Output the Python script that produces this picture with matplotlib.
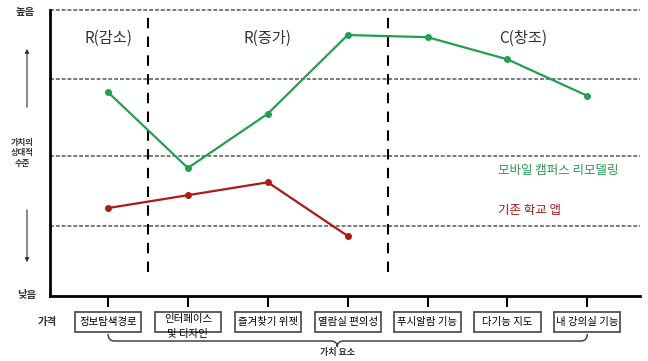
import numpy as np
import matplotlib.pyplot as plt
from matplotlib import transforms
from matplotlib.patches import Rectangle, PathPatch
from matplotlib.path import Path

plt.rcParams['font.family'] = ['Noto Sans CJK KR', 'DejaVu Sans']

# Données
categories = ['정보탐색경로', '인터페이스', '즐겨찾기 위젯', '열람실 편의성',
              '푸시알람 기능', '다기능 지도', '내 강의실 기능']
new_app = [2.85, 1.79, 2.55, 3.65, 3.62, 3.31, 2.80]   # 모바일 캠퍼스 리모델링
old_app = [1.23, 1.41, 1.59, 0.84]                     # 기존 학교 앱
grid_levels = [0.98, 1.96, 3.03, 4.0]
sections = ['R(감소)', 'R(증가)', 'C(창조)']
section_x = [0.0, 2.0, 5.2]
borders = [0.5, 3.5]

green = '#22a052'
red = '#b01818'

W, H = 648, 361
fig = plt.figure(figsize=(W / 100, H / 100), dpi=100)

# axe principal : de x=50 à 640 px, de y=10 à 296 px
ax = fig.add_axes([50 / W, (H - 296) / H, 590 / W, 286 / H])
ax.set_xlim(-0.727, 6.66)
ax.set_ylim(0, 4)

for lv in grid_levels:
    ax.axhline(lv, color='#7a7a7a', lw=1.4, ls=(0, (2, 1)), clip_on=False, zorder=1)
for b in borders:
    ax.axvline(b, ymin=0.084, ymax=0.99, color='black', lw=1.5, ls=(0, (5, 4)), zorder=2)

x = np.arange(len(categories))
ax.plot(x, new_app, color=green, lw=1.6, marker='o', ms=4, zorder=3)
ax.plot(x[:len(old_app)], old_app, color=red, lw=1.6, marker='o', ms=4, zorder=3)

for s, sx in zip(sections, section_x):
    ax.text(sx, 3.6, s, ha='center', va='center', fontsize=11, color='#333333')

ax.text(0.76, 0.44, '모바일 캠퍼스 리모델링', transform=ax.transAxes, ha='left',
        va='center', fontsize=9, color=green, fontweight='medium')
ax.text(0.76, 0.30, '기존 학교 앱', transform=ax.transAxes, ha='left',
        va='center', fontsize=9, color=red, fontweight='medium')

for side in ['top', 'right']:
    ax.spines[side].set_visible(False)
ax.spines['left'].set_linewidth(2)
ax.spines['bottom'].set_linewidth(2)
ax.set_xticks(x)
ax.set_xticklabels([])
ax.tick_params(axis='x', length=8, width=1.5, direction='out')
ax.set_yticks([])

# calque en pixels pour les annotations
over = fig.add_axes([0, 0, 1, 1], zorder=-1)
over.set_xlim(0, W)
over.set_ylim(H, 0)
over.axis('off')
bt = transforms.blended_transform_factory(ax.transData, over.transData)

bw = 0.83
for i, c in enumerate(categories):
    over.add_patch(Rectangle((i - bw / 2, 312), bw, 20, transform=bt, fill=False,
                             edgecolor='#444444', lw=1.2, clip_on=False))
    if i == 1:
        over.text(i, 319, c, transform=bt, ha='center', va='center', fontsize=7.5)
        over.text(i, 334, '및 디자인', transform=bt, ha='center', va='center', fontsize=7.5)
    else:
        over.text(i, 322, c, transform=bt, ha='center', va='center', fontsize=7.5)

# accolade
x0, x1, xc = 0.0, 6.0, 2.87
r = 0.08
verts = [(x0, 334), (x0, 341), (x0 + r, 341), (xc - r, 341), (xc, 341), (xc, 347),
         (xc, 341), (xc + r, 341), (x1 - r, 341), (x1, 341), (x1, 334)]
codes = [Path.MOVETO, Path.CURVE3, Path.CURVE3, Path.LINETO, Path.CURVE3, Path.CURVE3,
         Path.CURVE3, Path.CURVE3, Path.LINETO, Path.CURVE3, Path.CURVE3]
over.add_patch(PathPatch(Path(verts, codes), transform=bt, fill=False,
                         edgecolor='#444444', lw=1.1, clip_on=False))
over.text(xc, 353, '가치 요소', transform=bt, ha='center', va='center', fontsize=6.5,
          fontweight='bold', color='#333333')

# légende de l'axe vertical
over.text(25, 12, '높음', ha='center', va='center', fontsize=7.5, fontweight='bold', color='#333333')
over.text(27, 295, '낮음', ha='center', va='center', fontsize=7.5, fontweight='bold', color='#333333')
over.text(22, 153, '가치의\n상대적\n수준', ha='center', va='center', fontsize=6,
          fontweight='bold', color='#333333', linespacing=1.2)
over.text(47, 322, '가격', ha='center', va='center', fontsize=7.5, fontweight='bold', color='#333333')
over.annotate('', xy=(27, 46), xytext=(27, 110),
              arrowprops=dict(arrowstyle='-|>', color='#333333', lw=0.8, mutation_scale=6))
over.annotate('', xy=(27, 265), xytext=(27, 207),
              arrowprops=dict(arrowstyle='-|>', color='#333333', lw=0.8, mutation_scale=6))

fig.savefig('out.png', dpi=100)
